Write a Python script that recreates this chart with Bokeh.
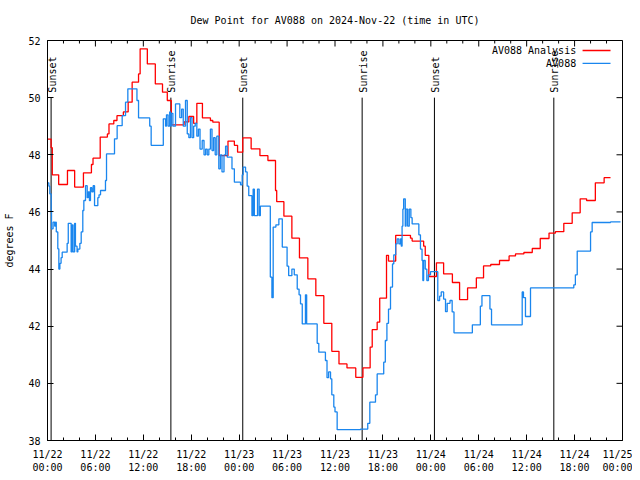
import math
from bokeh.plotting import figure
from bokeh.models import ColumnDataSource, FixedTicker, Label, Arrow, Range1d
from bokeh.embed import file_html
from bokeh.resources import INLINE
from bokeh.core.properties import value

# ---------------- data (hours since 2024-11-22 00:00 UTC) ----------------
ana_hours = [0.0, 0.45, 0.6, 1.4, 2.5, 3.4, 4.5, 5.5, 5.7, 6.6, 7.5, 7.7, 8.3, 8.7, 9.5, 10.1,
             10.6, 11.4, 11.6, 12.5, 13.5, 14.4, 15.0, 15.5, 17.1, 17.7, 18.3, 18.7, 19.4, 20.4,
             20.7, 21.5, 22.6, 23.4, 23.8, 24.45, 25.5, 26.6, 27.6, 28.55, 28.7, 29.6, 30.6,
             31.55, 32.6, 33.6, 34.6, 35.6, 36.5, 37.5, 38.6, 39.5, 40.4, 40.66, 41.28, 41.6,
             42.45, 42.7, 43.6, 45.45, 45.66, 47.1, 47.3, 47.75, 48.7, 49.6, 50.7, 51.6, 52.6,
             53.7, 54.6, 55.5, 56.6, 57.8, 58.6, 59.65, 60.7, 61.7, 62.8, 63.6, 64.65, 65.7,
             66.7, 67.5, 68.6, 69.7, 70.5]
ana_dewpt = [48.55, 48.25, 47.3, 46.96, 47.45, 46.87, 47.37, 47.66, 47.88, 48.62, 48.73, 49.08,
             49.2, 49.37, 49.5, 49.84, 50.54, 50.83, 51.71, 51.18, 50.48, 50.19, 49.9, 49.05,
             49.15, 49.34, 49.1, 49.8, 49.29, 49.2, 49.14, 47.97, 48.48, 48.33, 48.09, 48.59,
             48.21, 47.97, 47.8, 46.75, 46.36, 45.85, 45.08, 44.39, 43.66, 43.07, 42.1, 41.12,
             40.68, 40.54, 40.21, 40.54, 41.27, 41.88, 42.14, 42.98, 44.48, 44.28, 45.18, 45.08,
             44.98, 44.8, 44.48, 43.74, 44.22, 43.83, 43.53, 42.93, 43.34, 43.69, 44.11, 44.16,
             44.3, 44.46, 44.53, 44.58, 44.72, 45.07, 45.26, 45.31, 45.6, 45.97, 46.46, 46.4,
             47.02, 47.2, 47.2]

obs_hours = [0.0, 0.17, 0.29, 0.46, 0.5, 0.7, 0.9, 1.0, 1.1, 1.29, 1.42, 1.55, 1.7, 1.84, 2.46,
             2.6, 2.96, 3.1, 3.2, 3.4, 3.5, 3.7, 3.8, 4.05, 4.22, 4.42, 4.55, 4.76, 4.97, 5.1,
             5.25, 5.38, 5.55, 5.72, 5.89, 6.3, 6.45, 6.64, 7.26, 7.39, 8.39, 8.72, 9.35, 9.77,
             10.06, 11.2, 11.4, 12.8, 12.98, 14.5, 14.78, 14.9, 15.1, 15.3, 15.4, 15.5, 15.7,
             16.03, 16.57, 16.8, 17.0, 17.28, 17.5, 17.7, 17.9, 18.1, 18.3, 18.5, 18.7, 18.9,
             19.1, 19.37, 19.6, 19.8, 20.0, 20.2, 20.4, 20.6, 20.8, 21.0, 21.2, 21.45, 21.65,
             21.85, 22.1, 22.3, 22.5, 23.1, 23.4, 24.17, 24.38, 24.5, 24.8, 25.0, 25.2, 25.6,
             25.75, 25.9, 26.3, 26.5, 26.65, 27.9, 28.1, 28.26, 28.6, 28.97, 29.4, 30.0, 30.2,
             30.6, 30.9, 31.27, 31.5, 31.68, 31.9, 32.3, 32.45, 33.77, 33.97, 34.8, 35.0, 35.2,
             35.44, 35.6, 35.85, 36.0, 36.27, 39.2, 40.1, 40.36, 41.07, 41.28, 42.1, 42.3, 42.5,
             42.7, 42.95, 43.2, 43.36, 43.6, 43.78, 44.0, 44.2, 44.3, 44.4, 44.5, 44.6, 44.8,
             44.9, 45.1, 45.3, 45.5, 45.66, 46.5, 46.7, 46.9, 47.0, 47.1, 47.3, 47.5, 47.7,
             47.96, 48.87, 49.1, 49.3, 49.6, 49.84, 50.05, 50.4, 50.67, 50.9, 53.2, 54.2, 54.4,
             55.4, 55.6, 59.44, 59.6, 59.85, 60.48, 65.9, 66.1, 66.33, 68.0, 68.2, 70.5, 71.75]
obs_dewpt = [47.02, 46.9, 46.63, 46.0, 45.41, 45.64, 45.5, 45.64, 45.3, 44.71, 44.0, 44.2, 44.4,
             44.59, 44.9, 45.6, 44.6, 45.55, 44.6, 45.6, 44.8, 44.6, 44.7, 44.9, 45.3, 46.05,
             46.4, 46.92, 46.5, 46.7, 46.4, 46.85, 46.7, 46.92, 46.22, 46.5, 46.6, 46.75, 47.1,
             48.03, 48.56, 49.02, 49.37, 49.84, 50.31, 49.9, 49.29, 49.0, 48.33, 49.26, 49.0,
             49.4, 49.0, 49.5, 49.0, 49.45, 49.0, 49.78, 49.3, 49.6, 49.0, 49.9, 48.73, 48.6,
             49.3, 48.6, 49.0, 49.1, 48.65, 48.9, 48.2, 48.5, 48.0, 48.2, 48.0, 48.2, 48.9,
             48.15, 48.6, 48.0, 48.65, 47.51, 48.0, 47.4, 48.0, 48.3, 47.92, 47.51, 47.04, 46.95,
             47.3, 47.57, 47.4, 46.9, 46.57, 45.87, 46.8, 45.87, 46.8, 45.87, 46.2, 43.72, 43.0,
             45.47, 45.55, 45.76, 44.77, 44.1, 43.77, 44.0, 43.8, 43.3, 43.1, 42.78, 42.08, 43.1,
             42.08, 41.4, 41.09, 40.8, 40.2, 40.4, 40.16, 39.6, 39.17, 39.0, 38.38, 38.4, 38.6,
             39.34, 39.6, 40.33, 40.74, 41.5, 42.1, 42.6, 43.37, 44.18, 44.5, 44.88, 45.06, 44.88,
             45.06, 44.8, 45.5, 46.1, 46.46, 45.5, 46.1, 45.5, 46.1, 45.8, 45.58, 45.2, 44.7,
             44.3, 43.6, 44.3, 44.0, 43.6, 43.8, 43.91, 42.9, 43.05, 43.2, 42.95, 42.51, 42.8,
             42.9, 42.5, 41.77, 42.05, 42.7, 43.07, 42.6, 42.05, 43.2, 43.0, 42.34, 43.34, 43.45,
             43.8, 44.63, 45.3, 45.63, 45.65, 45.65]

sun_hours = [0.45, 15.45, 24.45, 39.4, 48.45, 63.4]
sun_labels = ["Sunset", "Sunrise", "Sunset", "Sunrise", "Sunset", "Sunrise"]

x_tick_hours = [0, 6, 12, 18, 24, 30, 36, 42, 48, 54, 60, 66, 72]
x_tick_labels = ["11/22\n00:00", "11/22\n06:00", "11/22\n12:00", "11/22\n18:00",
                 "11/23\n00:00", "11/23\n06:00", "11/23\n12:00", "11/23\n18:00",
                 "11/24\n00:00", "11/24\n06:00", "11/24\n12:00", "11/24\n18:00",
                 "11/25\n00:00"]
x_minor_hours = [h for h in range(0, 73, 2) if h % 6 != 0]
y_ticks = [38, 40, 42, 44, 46, 48, 50, 52]

series_names = ["AV088 Analysis", "AV088"]
series_colors = ["#ff0000", "#1a86ee"]

FONT = "DejaVu Sans Mono"
FS = "10px"

# ---------------- figure ----------------
p = figure(frame_width=575, frame_height=400, output_backend="svg", toolbar_location=None,
           x_range=Range1d(0, 72), y_range=Range1d(38, 52),
           min_border_left=47, min_border_right=10, min_border_top=40, min_border_bottom=32,
           title="Dew Point for AV088 on 2024-Nov-22 (time in UTC)")
p.title.text_font = FONT
p.title.text_font_size = FS
p.title.text_font_style = "normal"
p.title.text_color = "black"
p.title.align = "center"
p.title.vertical_align = "top"
p.title.standoff = 26
p.grid.visible = False
p.outline_line_color = "black"
p.outline_line_width = 1
p.background_fill_color = "white"
p.border_fill_color = "white"

xa = p.xaxis[0]
xa.ticker = FixedTicker(ticks=x_tick_hours, minor_ticks=x_minor_hours)
xa.major_label_overrides = {h: lab for h, lab in zip(x_tick_hours, x_tick_labels)}
ya = p.yaxis[0]
ya.ticker = FixedTicker(ticks=y_ticks, minor_ticks=[])
ya.axis_label = "degrees F"

for ax in (xa, ya):
    ax.major_label_text_font = FONT
    ax.major_label_text_font_size = FS
    ax.major_label_text_color = "black"
    ax.axis_label_text_font = FONT
    ax.axis_label_text_font_size = FS
    ax.axis_label_text_font_style = "normal"
    ax.axis_label_text_color = "black"
    ax.major_tick_in = 6
    ax.major_tick_out = 0
    ax.minor_tick_in = 3
    ax.minor_tick_out = 0
    ax.axis_line_color = "black"
    ax.major_tick_line_color = "black"
    ax.minor_tick_line_color = "black"
xa.major_label_standoff = 8
ya.major_label_standoff = 7
ya.axis_label_standoff = 10

# mirrored inward ticks on top and right edges (gnuplot style)
x_hi = p.x_range.end
y_hi = p.y_range.end
p.ray(x=x_tick_hours, y=[y_hi] * len(x_tick_hours), length=6, length_units="screen",
      angle=-math.pi / 2, line_color="black", line_width=1)
p.ray(x=x_minor_hours, y=[y_hi] * len(x_minor_hours), length=3, length_units="screen",
      angle=-math.pi / 2, line_color="black", line_width=1)
p.ray(x=[x_hi] * len(y_ticks), y=y_ticks, length=6, length_units="screen",
      angle=math.pi, line_color="black", line_width=1)

# ---------------- sunrise / sunset markers ----------------
y_lo = p.y_range.start
y_mark = 50
sun_src = ColumnDataSource(dict(t=sun_hours, lab=sun_labels,
                                y0=[y_lo] * len(sun_hours), y1=[y_mark] * len(sun_hours)))
p.segment(x0="t", y0="y0", x1="t", y1="y1", source=sun_src, line_color="black", line_width=1)
p.text(x="t", y="y1", text="lab", source=sun_src, angle=math.pi / 2,
       text_align="left", text_baseline="middle", x_offset=1, y_offset=-5,
       text_font=value(FONT), text_font_size=FS, text_color="black")

# ---------------- series ----------------
p.step(ana_hours, ana_dewpt, mode="after", line_color=series_colors[0], line_width=1.3)
p.step(obs_hours, obs_dewpt, mode="after", line_color=series_colors[1], line_width=1.3)

# ---------------- legend (gnuplot style: text then sample line) ----------------
leg_y = [51.65, 51.2]
for name, col, ly in zip(series_names, series_colors, leg_y):
    p.add_layout(Label(x=66.2, y=ly, text=name, text_align="right", text_baseline="middle",
                       text_font=FONT, text_font_size=FS, text_color="black"))
    p.add_layout(Arrow(end=None, start=None, x_start=67.0, y_start=ly, x_end=70.5, y_end=ly,
                       line_color=col, line_width=1.3))

open("out.html", "w").write(file_html(p, INLINE))
